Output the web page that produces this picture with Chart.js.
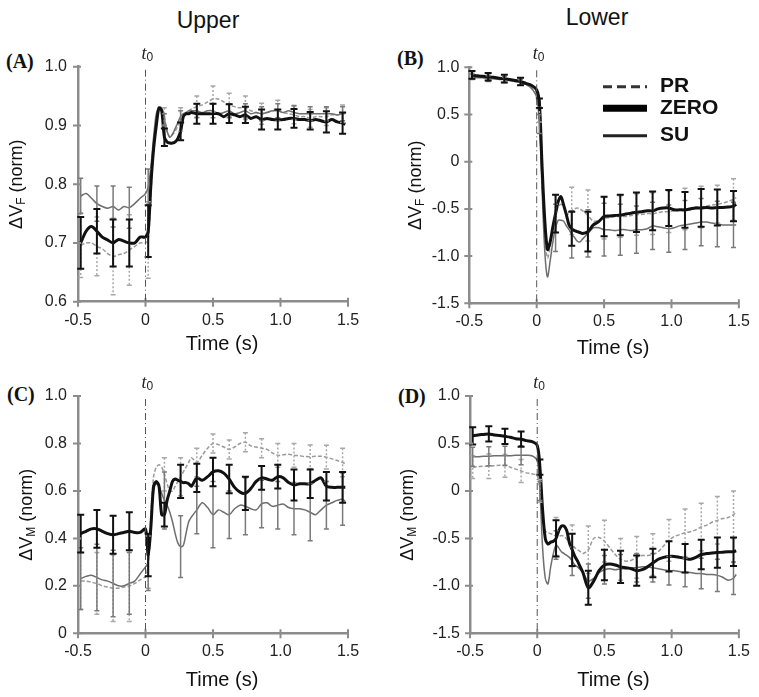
<!DOCTYPE html>
<html>
<head>
<meta charset="utf-8">
<script src="https://cdn.jsdelivr.net/npm/chart.js@4.4.0/dist/chart.umd.min.js"></script>
<style>
body { margin: 0; background: #fff; width: 759px; height: 697px; position: relative; overflow: hidden; font-family: "Liberation Sans", Arial, sans-serif; }
canvas { position: absolute; }
.ttl { position: absolute; font-size: 23px; color: #111; transform: translate(-50%, -50%); }
.pl { position: absolute; font: bold 20px "Liberation Serif", serif; color: #111; transform: translateY(-50%); }
</style>
</head>
<body>
<div class="ttl" style="left:208px;top:20px">Upper</div>
<div class="ttl" style="left:597px;top:17px">Lower</div>
<div class="pl" style="left:6px;top:61px">(A)</div>
<div class="pl" style="left:397px;top:58px">(B)</div>
<div class="pl" style="left:7px;top:394px">(C)</div>
<div class="pl" style="left:398px;top:396px">(D)</div>
<canvas id="chartA" width="379" height="320" style="left:0;top:40px"></canvas>
<canvas id="chartB" width="379" height="320" style="left:380px;top:40px"></canvas>
<canvas id="chartC" width="379" height="337" style="left:0;top:360px"></canvas>
<canvas id="chartD" width="379" height="337" style="left:380px;top:360px"></canvas>
<script>
// time samples (s) shared by every curve
times = [-0.48, -0.44, -0.40, -0.36, -0.32, -0.28, -0.24, -0.20, -0.16, -0.12, -0.08, -0.04, 0.00,
  0.02, 0.04, 0.06, 0.08, 0.10, 0.12, 0.14, 0.16, 0.18, 0.20, 0.22, 0.24, 0.26, 0.28, 0.30, 0.32, 0.34,
  0.38, 0.42, 0.46, 0.50, 0.54, 0.58, 0.62, 0.66, 0.70, 0.74, 0.78, 0.82, 0.86, 0.90, 0.94, 0.98,
  1.02, 1.06, 1.10, 1.14, 1.18, 1.22, 1.26, 1.30, 1.34, 1.38, 1.42, 1.46, 1.48];
// times where the error bars sit
errTimes = [-0.48, -0.36, -0.24, -0.12, 0.02, 0.14, 0.26, 0.38, 0.50, 0.62, 0.74, 0.86, 0.98, 1.10, 1.22, 1.34, 1.46];

legendOrder = ["PR", "ZERO", "SU"];
xTickLabels = ["-0.5", "0", "0.5", "1.0", "1.5"];
yTicksA = ["0.6", "0.7", "0.8", "0.9", "1.0"];
yTicksLower = ["-1.5", "-1.0", "-0.5", "0", "0.5", "1.0"];
yTicksC = ["0", "0.2", "0.4", "0.6", "0.8", "1.0"];

// (A) upper, dVF
zeroA = [0.70, 0.72, 0.728, 0.72, 0.71, 0.705, 0.70, 0.706, 0.703, 0.70, 0.70, 0.71, 0.71,
  0.72, 0.80, 0.86, 0.90, 0.93, 0.925, 0.88, 0.872, 0.87, 0.87, 0.872, 0.878, 0.89, 0.915, 0.92, 0.92, 0.922,
  0.92, 0.92, 0.92, 0.92, 0.92, 0.915, 0.92, 0.918, 0.915, 0.918, 0.912, 0.915, 0.91, 0.912, 0.91, 0.91,
  0.91, 0.912, 0.912, 0.91, 0.91, 0.908, 0.91, 0.908, 0.906, 0.91, 0.906, 0.904, 0.902];
suA = [0.78, 0.784, 0.776, 0.767, 0.762, 0.759, 0.762, 0.756, 0.762, 0.76, 0.767, 0.776, 0.784,
  0.796, 0.83, 0.88, 0.92, 0.93, 0.93, 0.91, 0.89, 0.88, 0.885, 0.895, 0.905, 0.915, 0.92, 0.922, 0.925, 0.925,
  0.925, 0.922, 0.925, 0.925, 0.92, 0.922, 0.925, 0.92, 0.922, 0.925, 0.92, 0.922, 0.92, 0.922, 0.925, 0.925,
  0.922, 0.925, 0.922, 0.92, 0.92, 0.92, 0.92, 0.92, 0.92, 0.92, 0.918, 0.92, 0.922];
prA = [0.696, 0.70, 0.70, 0.694, 0.69, 0.682, 0.677, 0.68, 0.682, 0.688, 0.694, 0.70, 0.70,
  0.705, 0.78, 0.86, 0.91, 0.93, 0.93, 0.915, 0.89, 0.88, 0.885, 0.89, 0.90, 0.91, 0.915, 0.92, 0.925, 0.928,
  0.932, 0.935, 0.94, 0.945, 0.945, 0.94, 0.935, 0.932, 0.93, 0.93, 0.925, 0.922, 0.92, 0.922, 0.925, 0.925,
  0.922, 0.92, 0.918, 0.915, 0.915, 0.912, 0.915, 0.915, 0.915, 0.918, 0.918, 0.92, 0.92];
zeroSdA = [0.044, 0.038, 0.04, 0.04, 0.044, 0.015, 0.015, 0.017, 0.017, 0.016, 0.014, 0.017, 0.017, 0.016, 0.015, 0.018, 0.018];
suSdA = [0.03, 0.03, 0.035, 0.035, 0.03, 0.01, 0.01, 0.012, 0.012, 0.012, 0.012, 0.012, 0.012, 0.012, 0.012, 0.012, 0.012];
prSdA = [0.055, 0.05, 0.065, 0.06, 0.065, 0.015, 0.02, 0.018, 0.022, 0.02, 0.02, 0.018, 0.018, 0.015, 0.015, 0.015, 0.015];

// (B) lower, dVF
zeroB = [0.92, 0.91, 0.905, 0.90, 0.895, 0.885, 0.88, 0.87, 0.86, 0.85, 0.83, 0.81, 0.76,
  0.62, -0.05, -0.62, -0.93, -0.85, -0.69, -0.55, -0.42, -0.37, -0.46, -0.56, -0.67, -0.71, -0.73, -0.74, -0.75, -0.76,
  -0.74, -0.67, -0.635, -0.58, -0.575, -0.57, -0.565, -0.555, -0.545, -0.535, -0.53, -0.52, -0.52, -0.50, -0.49, -0.49,
  -0.51, -0.51, -0.51, -0.50, -0.49, -0.49, -0.485, -0.49, -0.485, -0.485, -0.48, -0.47, -0.45];
suB = [0.90, 0.89, 0.89, 0.88, 0.88, 0.87, 0.87, 0.86, 0.85, 0.84, 0.82, 0.78, 0.68,
  0.40, -0.30, -0.95, -1.22, -1.05, -0.85, -0.70, -0.62, -0.62, -0.63, -0.68, -0.72, -0.77, -0.80, -0.84, -0.85, -0.82,
  -0.76, -0.70, -0.70, -0.72, -0.72, -0.73, -0.72, -0.72, -0.73, -0.72, -0.72, -0.71, -0.68, -0.69, -0.70, -0.71,
  -0.70, -0.68, -0.67, -0.66, -0.65, -0.64, -0.64, -0.65, -0.66, -0.67, -0.67, -0.67, -0.67];
prB = [0.91, 0.90, 0.90, 0.89, 0.88, 0.88, 0.87, 0.86, 0.85, 0.84, 0.82, 0.78, 0.72,
  0.50, -0.20, -0.80, -1.02, -0.90, -0.70, -0.55, -0.48, -0.45, -0.48, -0.55, -0.55, -0.52, -0.50, -0.49, -0.50, -0.52,
  -0.57, -0.63, -0.62, -0.60, -0.59, -0.58, -0.58, -0.58, -0.57, -0.56, -0.56, -0.55, -0.55, -0.54, -0.53, -0.53,
  -0.52, -0.51, -0.50, -0.49, -0.48, -0.48, -0.47, -0.46, -0.45, -0.44, -0.42, -0.40, -0.38];
zeroSdB = [0.04, 0.04, 0.04, 0.04, 0.05, 0.2, 0.18, 0.21, 0.21, 0.215, 0.21, 0.205, 0.19, 0.19, 0.2, 0.19, 0.16];
suSdB = [0.03, 0.03, 0.03, 0.03, 0.1, 0.25, 0.25, 0.25, 0.28, 0.27, 0.25, 0.25, 0.25, 0.26, 0.25, 0.24, 0.24];
prSdB = [0.03, 0.03, 0.03, 0.03, 0.08, 0.2, 0.25, 0.27, 0.22, 0.22, 0.22, 0.22, 0.22, 0.22, 0.22, 0.2, 0.22];

// (C) upper, dVM
zeroC = [0.42, 0.43, 0.44, 0.44, 0.43, 0.42, 0.415, 0.42, 0.425, 0.43, 0.425, 0.425, 0.44,
  0.33, 0.45, 0.62, 0.64, 0.62, 0.50, 0.50, 0.56, 0.60, 0.64, 0.65, 0.645, 0.64, 0.635, 0.635, 0.63, 0.62,
  0.655, 0.645, 0.66, 0.68, 0.685, 0.675, 0.65, 0.615, 0.595, 0.59, 0.61, 0.64, 0.655, 0.65, 0.645, 0.66,
  0.655, 0.635, 0.625, 0.63, 0.63, 0.63, 0.645, 0.655, 0.62, 0.615, 0.615, 0.615, 0.615];
suC = [0.23, 0.24, 0.245, 0.235, 0.225, 0.22, 0.21, 0.20, 0.20, 0.21, 0.22, 0.25, 0.28,
  0.30, 0.45, 0.60, 0.63, 0.62, 0.59, 0.56, 0.54, 0.51, 0.47, 0.42, 0.38, 0.365, 0.37, 0.42, 0.47, 0.49,
  0.52, 0.55, 0.53, 0.50, 0.52, 0.51, 0.50, 0.525, 0.54, 0.535, 0.525, 0.52, 0.545, 0.55, 0.535, 0.54,
  0.545, 0.53, 0.525, 0.525, 0.52, 0.51, 0.50, 0.52, 0.54, 0.55, 0.56, 0.565, 0.555];
prC = [0.22, 0.22, 0.215, 0.21, 0.20, 0.195, 0.19, 0.19, 0.195, 0.20, 0.21, 0.225, 0.24,
  0.30, 0.50, 0.66, 0.70, 0.71, 0.70, 0.67, 0.63, 0.60, 0.60, 0.62, 0.64, 0.66, 0.68, 0.70, 0.72, 0.74,
  0.72, 0.75, 0.78, 0.80, 0.795, 0.785, 0.775, 0.785, 0.80, 0.805, 0.79, 0.785, 0.78, 0.775, 0.76, 0.75,
  0.752, 0.755, 0.75, 0.748, 0.745, 0.744, 0.746, 0.746, 0.742, 0.735, 0.728, 0.72, 0.715];
zeroSdC = [0.08, 0.08, 0.08, 0.08, 0.09, 0.05, 0.07, 0.06, 0.06, 0.06, 0.07, 0.05, 0.05, 0.065, 0.06, 0.06, 0.065];
suSdC = [0.13, 0.14, 0.14, 0.13, 0.12, 0.12, 0.13, 0.1, 0.14, 0.1, 0.12, 0.1, 0.1, 0.11, 0.12, 0.1, 0.11];
prSdC = [0.12, 0.13, 0.14, 0.15, 0.11, 0.07, 0.08, 0.06, 0.04, 0.04, 0.04, 0.04, 0.05, 0.05, 0.05, 0.05, 0.06];

// (D) lower, dVM
zeroD = [0.58, 0.59, 0.595, 0.60, 0.59, 0.585, 0.575, 0.565, 0.55, 0.545, 0.53, 0.52, 0.48,
  0.25, -0.20, -0.50, -0.56, -0.54, -0.53, -0.50, -0.42, -0.37, -0.37, -0.42, -0.55, -0.62, -0.69, -0.74, -0.80, -0.86,
  -1.02, -0.95, -0.84, -0.78, -0.77, -0.78, -0.80, -0.81, -0.82, -0.84, -0.83, -0.80, -0.76, -0.72, -0.70, -0.69,
  -0.69, -0.70, -0.71, -0.72, -0.70, -0.67, -0.66, -0.655, -0.65, -0.645, -0.64, -0.64, -0.63];
suD = [0.36, 0.36, 0.365, 0.365, 0.37, 0.37, 0.37, 0.37, 0.375, 0.375, 0.375, 0.37, 0.32,
  0.0, -0.60, -0.92, -0.98, -0.80, -0.66, -0.57, -0.60, -0.64, -0.66, -0.68, -0.70, -0.74, -0.78, -0.80, -0.83, -0.86,
  -0.95, -0.92, -0.86, -0.83, -0.82, -0.83, -0.82, -0.82, -0.81, -0.81, -0.80, -0.80, -0.81, -0.82, -0.83, -0.84,
  -0.84, -0.85, -0.86, -0.86, -0.87, -0.87, -0.88, -0.88, -0.89, -0.91, -0.94, -0.92, -0.88];
prD = [0.25, 0.255, 0.26, 0.26, 0.265, 0.27, 0.265, 0.25, 0.23, 0.21, 0.19, 0.18, 0.16,
  0.0, -0.30, -0.42, -0.44, -0.45, -0.46, -0.48, -0.48, -0.47, -0.48, -0.51, -0.55, -0.58, -0.60, -0.62, -0.64, -0.66,
  -0.62, -0.50, -0.49, -0.53, -0.60, -0.67, -0.72, -0.74, -0.73, -0.70, -0.68, -0.68, -0.67, -0.64, -0.58, -0.52,
  -0.48, -0.46, -0.44, -0.43, -0.41, -0.38, -0.36, -0.33, -0.31, -0.29, -0.28, -0.25, -0.22];
zeroSdD = [0.09, 0.08, 0.08, 0.08, 0.08, 0.19, 0.17, 0.18, 0.16, 0.17, 0.16, 0.15, 0.16, 0.15, 0.155, 0.16, 0.15];
suSdD = [0.1, 0.1, 0.1, 0.1, 0.1, 0.15, 0.15, 0.18, 0.15, 0.15, 0.15, 0.15, 0.15, 0.15, 0.16, 0.17, 0.17];
prSdD = [0.12, 0.13, 0.12, 0.12, 0.12, 0.2, 0.22, 0.25, 0.22, 0.22, 0.22, 0.22, 0.22, 0.25, 0.25, 0.25, 0.25];

var FONT = '"Liberation Sans", Arial, sans-serif';
var AXIS = '#8c8c8c';

var looks = {
  ZERO: { color: '#111', width: 3, dash: [], bar: '#111', barW: 2, barDash: [], cap: 3.5, key: '#000', keyW: 7, keyDash: [] },
  SU: { color: '#6e6e6e', width: 1.5, dash: [], bar: '#7a7a7a', barW: 1.5, barDash: [], cap: 2.5, key: '#222', keyW: 3, keyDash: [] },
  PR: { color: '#9a9a9a', width: 1.5, dash: [4, 2], bar: '#a8a8a8', barW: 1.5, barDash: [2, 2], cap: 2.5, key: '#333', keyW: 3, keyDash: [9, 5] }
};

function makeSet(name, vals, sd) {
  var lk = looks[name];
  return {
    label: name,
    data: times.map(function (t, i) { return { x: t, y: vals[i] }; }),
    borderColor: lk.color,
    borderWidth: lk.width,
    borderDash: lk.dash,
    pointRadius: 0,
    tension: 0.3,
    fill: false,
    sd: sd
  };
}

// error bars, drawn from each dataset's sd list
var errorBars = {
  id: 'errorBars',
  afterDatasetsDraw: function (chart) {
    var ctx = chart.ctx, x = chart.scales.x, y = chart.scales.y;
    ctx.save();
    chart.data.datasets.slice().reverse().forEach(function (ds) {
      var lk = looks[ds.label];
      ctx.strokeStyle = lk.bar;
      ctx.lineWidth = lk.barW;
      errTimes.forEach(function (t, k) {
        var i = times.findIndex(function (s) { return Math.abs(s - t) < 1e-6; });
        var v = ds.data[i].y;
        var px = x.getPixelForValue(t);
        var hi = y.getPixelForValue(v + ds.sd[k]);
        var lo = y.getPixelForValue(v - ds.sd[k]);
        ctx.setLineDash(lk.barDash);
        ctx.beginPath(); ctx.moveTo(px, hi); ctx.lineTo(px, lo); ctx.stroke();
        ctx.setLineDash([]);
        ctx.beginPath();
        ctx.moveTo(px - lk.cap, hi); ctx.lineTo(px + lk.cap, hi);
        ctx.moveTo(px - lk.cap, lo); ctx.lineTo(px + lk.cap, lo);
        ctx.stroke();
      });
    });
    ctx.restore();
  }
};

function makeDeco(cfg) {
  return {
    id: 'deco',
    afterDraw: function (chart) {
      var ctx = chart.ctx, a = chart.chartArea, x = chart.scales.x, y = chart.scales.y;
      ctx.save();
      // tick marks crossing the axes
      ctx.strokeStyle = AXIS; ctx.lineWidth = 2;
      ctx.beginPath();
      x.ticks.forEach(function (t) {
        var px = x.getPixelForValue(t.value);
        ctx.moveTo(px, a.bottom - 4); ctx.lineTo(px, a.bottom + 5);
      });
      y.ticks.forEach(function (t) {
        var py = y.getPixelForValue(t.value);
        ctx.moveTo(a.left - 5, py); ctx.lineTo(a.left + 3, py);
      });
      ctx.stroke();

      // t0 marker
      var p0 = x.getPixelForValue(0);
      ctx.strokeStyle = '#555'; ctx.lineWidth = 1;
      ctx.setLineDash([7, 3, 1, 3]);
      ctx.beginPath(); ctx.moveTo(p0, a.top + 3); ctx.lineTo(p0, a.bottom); ctx.stroke();
      ctx.setLineDash([]);
      ctx.fillStyle = '#222';
      ctx.textBaseline = 'alphabetic';
      ctx.textAlign = 'right';
      ctx.font = 'italic 18px "Liberation Serif", serif';
      ctx.fillText('t', p0 + 1, a.top - 8);
      ctx.textAlign = 'left';
      ctx.font = '12px ' + FONT;
      ctx.fillText('0', p0 + 1, a.top - 6);

      // x title
      ctx.fillStyle = '#111';
      ctx.textAlign = 'center'; ctx.textBaseline = 'middle';
      ctx.font = '20px ' + FONT;
      ctx.fillText('Time (s)', (a.left + a.right) / 2 + 9, a.bottom + cfg.xTitleDy);

      // y title with subscript
      ctx.translate(cfg.yTitleX, (a.top + a.bottom) / 2);
      ctx.rotate(-Math.PI / 2);
      var f1 = '18px ' + FONT, f2 = '12px ' + FONT;
      ctx.font = f1; var w1 = ctx.measureText('\u0394V').width, w3 = ctx.measureText(' (norm)').width;
      ctx.font = f2; var w2 = ctx.measureText(cfg.sub).width;
      var sx = -(w1 + w2 + w3) / 2;
      ctx.textAlign = 'left'; ctx.textBaseline = 'alphabetic';
      ctx.font = f1; ctx.fillText('\u0394V', sx, 6);
      ctx.font = f2; ctx.fillText(cfg.sub, sx + w1, 9);
      ctx.font = f1; ctx.fillText(' (norm)', sx + w1 + w2, 6);
      ctx.restore();

      // legend (panel B only)
      if (cfg.legend) {
        ctx.save();
        ctx.font = 'bold 21px ' + FONT;
        ctx.textBaseline = 'middle'; ctx.textAlign = 'left';
        ctx.fillStyle = '#111';
        legendOrder.forEach(function (name, i) {
          var lk = looks[name], ly = cfg.legendY[i];
          ctx.strokeStyle = lk.key; ctx.lineWidth = lk.keyW;
          ctx.setLineDash(lk.keyDash);
          ctx.beginPath(); ctx.moveTo(cfg.legendX, ly); ctx.lineTo(cfg.legendX + 44, ly); ctx.stroke();
          ctx.setLineDash([]);
          ctx.fillText(name, cfg.legendX + 57, ly);
        });
        ctx.restore();
      }
    }
  };
}

function renderChart(id, cfg, zero, su, pr, zeroSd, suSd, prSd) {
  var ctx = document.getElementById(id).getContext('2d');
  return new Chart(ctx, {
    type: 'line',
    data: {
      datasets: [makeSet('ZERO', zero, zeroSd), makeSet('SU', su, suSd), makeSet('PR', pr, prSd)]
    },
    options: {
      responsive: false,
      animation: false,
      layout: { padding: { top: cfg.padTop, right: cfg.padRight, left: 0, bottom: 0 } },
      plugins: { legend: { display: false }, tooltip: { enabled: false } },
      scales: {
        x: {
          type: 'linear', min: -0.5, max: 1.5,
          afterFit: function (s) { s.height = cfg.xH; },
          ticks: {
            stepSize: 0.5, padding: 9, color: '#222', font: { family: FONT, size: 16 },
            callback: function (v, i) { return xTickLabels[i]; }
          },
          grid: { display: true, drawOnChartArea: false, drawTicks: false },
          border: { color: AXIS, width: 2.5 }
        },
        y: {
          min: cfg.yMin, max: cfg.yMax,
          afterFit: function (s) { s.width = cfg.yW; },
          ticks: {
            stepSize: cfg.step, padding: cfg.yPad, color: '#222', font: { family: FONT, size: 16 },
            callback: function (v, i) { return cfg.yLabels[i]; }
          },
          grid: { display: true, drawOnChartArea: false, drawTicks: false },
          border: { color: AXIS, width: 2.5 }
        }
      }
    },
    plugins: [errorBars, makeDeco(cfg)]
  });
}

renderChart('chartA', { yMin: 0.6, yMax: 1.0, step: 0.1, yLabels: yTicksA, sub: 'F', padTop: 26.7, padRight: 31, yW: 78, xH: 58.3, yPad: 11, yTitleX: 16, xTitleDy: 43 },
  zeroA, suA, prA, zeroSdA, suSdA, prSdA);
renderChart('chartB', { yMin: -1.5, yMax: 1.0, step: 0.5, yLabels: yTicksLower, sub: 'F', padTop: 27.3, padRight: 19, yW: 89.3, xH: 56.7, yPad: 10, yTitleX: 35, xTitleDy: 45,
  legend: true, legendX: 223, legendY: [46.7, 68.3, 95.7] },
  zeroB, suB, prB, zeroSdB, suSdB, prSdB);
renderChart('chartC', { yMin: 0, yMax: 1.0, step: 0.2, yLabels: yTicksC, sub: 'M', padTop: 36, padRight: 31, yW: 78, xH: 63.7, yPad: 11, yTitleX: 26, xTitleDy: 46.7 },
  zeroC, suC, prC, zeroSdC, suSdC, prSdC);
renderChart('chartD', { yMin: -1.5, yMax: 1.0, step: 0.5, yLabels: yTicksLower, sub: 'M', padTop: 36, padRight: 19, yW: 90, xH: 63.7, yPad: 10, yTitleX: 27, xTitleDy: 46.7 },
  zeroD, suD, prD, zeroSdD, suSdD, prSdD);
</script>
</body>
</html>
